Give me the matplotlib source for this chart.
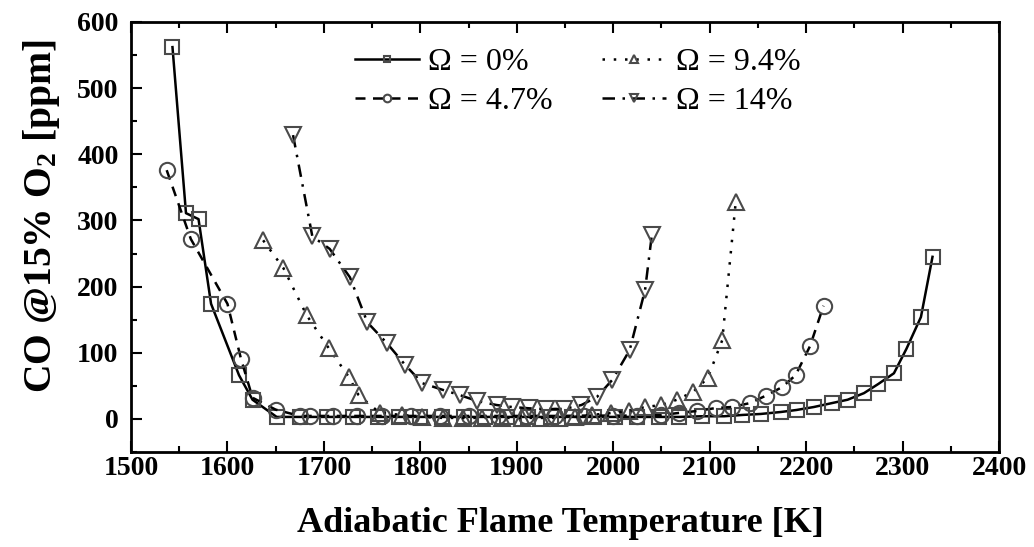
import matplotlib
matplotlib.use('Agg')
import matplotlib.pyplot as plt
from matplotlib.ticker import MultipleLocator

plt.rcParams['font.family'] = 'Liberation Serif'
plt.rcParams['mathtext.fontset'] = 'custom'
plt.rcParams['mathtext.rm'] = 'Liberation Serif'
plt.rcParams['mathtext.bf'] = 'Liberation Serif:bold'
plt.rcParams['mathtext.it'] = 'Liberation Serif:italic'

# Omega = 0 %
t0 = [1543, 1557, 1570, 1583, 1612, 1626, 1651, 1675, 1703, 1730, 1756, 1778, 1800,
      1822, 1845, 1867, 1890, 1912, 1935, 1957, 1980, 2002, 2025, 2047, 2068, 2092,
      2115, 2134, 2153, 2174, 2190, 2208, 2227, 2243, 2260, 2275, 2291, 2304, 2319, 2331]
co0 = [562, 311, 302, 174, 66, 29, 3, 3, 3, 3, 3, 3, 3,
       3, 3, 3, 3, 3, 3, 3, 3, 3, 3, 3, 3, 4,
       4, 6, 7.5, 10.5, 13.5, 18, 24, 29, 39, 53, 69, 106, 154, 245]

# Omega = 4.7 %
t1 = [1537, 1562, 1600, 1614, 1626, 1650, 1675, 1686, 1709, 1734, 1760, 1790, 1820,
      1850, 1880, 1910, 1940, 1970, 2000, 2025, 2050, 2068, 2087, 2107, 2123, 2142,
      2158, 2175, 2189, 2204, 2218]
co1 = [376, 272, 174, 91, 32, 14, 4.5, 4.5, 4.5, 4.5, 4.5, 4.5, 4.5,
       4.5, 4.5, 4.5, 4.5, 5, 5, 5, 6, 9, 12, 16.6, 18, 24,
       35, 48, 66, 110, 171]

# Omega = 9.4 %
t2 = [1637, 1658, 1682, 1705, 1726, 1736, 1758, 1781, 1802, 1823, 1844, 1864, 1885,
      1905, 1925, 1944, 1960, 1978, 1998, 2016, 2033, 2050, 2066, 2083, 2098, 2113, 2127]
co2 = [270, 228, 157, 107, 63, 36, 9, 6, 3, 1.5, 1.5, 1.5, 1.5,
       1.5, 1.5, 1.5, 3, 6, 9, 12, 18, 21, 29, 41, 62, 119, 328]

# Omega = 14 %
t3 = [1668, 1688, 1706, 1727, 1745, 1765, 1784, 1802, 1823, 1841, 1859, 1879, 1895,
      1913, 1930, 1949, 1967, 1983, 1999, 2017, 2033, 2040]
co3 = [429, 276, 257, 214, 146, 115, 82, 54, 44, 36, 27, 21, 18,
       16, 15, 15, 21, 33, 59, 104, 195, 278]

labels = ['Ω = 0%', 'Ω = 4.7%', 'Ω = 9.4%', 'Ω = 14%']

fig = plt.figure(figsize=(10.34, 5.47), dpi=100)
ax = fig.add_axes([0.1267, 0.1737, 0.8395, 0.7861])

mec = '#4a4a4a'
kw = dict(color='black', lw=1.8, mfc='none', mec=mec, mew=1.5)
l0, = ax.plot(t0, co0, ls='-', marker='s', ms=10, label=labels[0], **kw)
l1, = ax.plot(t1, co1, ls=(0, (4, 3)), marker='o', ms=11, label=labels[1], **kw)
l2, = ax.plot(t2, co2, ls=(0, (1, 3.5)), marker='^', ms=12, label=labels[2], **kw)
l3, = ax.plot(t3, co3, ls=(0, (5, 3, 1, 3)), marker='v', ms=12, label=labels[3], **kw)

ax.set_xlim(1500, 2400)
ax.set_ylim(-50, 600)
ax.xaxis.set_major_locator(MultipleLocator(100))
ax.xaxis.set_minor_locator(MultipleLocator(50))
ax.yaxis.set_major_locator(MultipleLocator(100))
ax.yaxis.set_minor_locator(MultipleLocator(50))
ax.tick_params(which='both', direction='in', top=True, right=False, width=1.5)
ax.tick_params(which='major', length=8, labelsize=20)
ax.tick_params(which='minor', length=4)
ax.tick_params(axis='x', which='major', pad=3)
ax.tick_params(axis='y', which='major', pad=9)
for lab in ax.get_xticklabels() + ax.get_yticklabels():
    lab.set_fontweight('bold')
for s in ax.spines.values():
    s.set_linewidth(2)

ax.set_xlabel('Adiabatic Flame Temperature [K]', fontsize=26, fontweight='bold')
ax.set_ylabel(r'CO @15% O$_\mathbf{2}$ [ppm]', fontsize=28.5, fontweight='bold')
ax.xaxis.set_label_coords(0.495, -0.128)
ax.yaxis.set_label_coords(-0.08, 0.549)

ax.legend(handles=[l0, l1, l2, l3], ncol=2, frameon=False, fontsize=23,
          loc='upper left', bbox_to_anchor=(0.343, 0.912), bbox_transform=fig.transFigure,
          borderpad=0, borderaxespad=0, handlelength=2.0, handletextpad=0.3,
          columnspacing=1.55, labelspacing=0.3, markerscale=0.5)

fig.savefig('out.png', dpi=100)
